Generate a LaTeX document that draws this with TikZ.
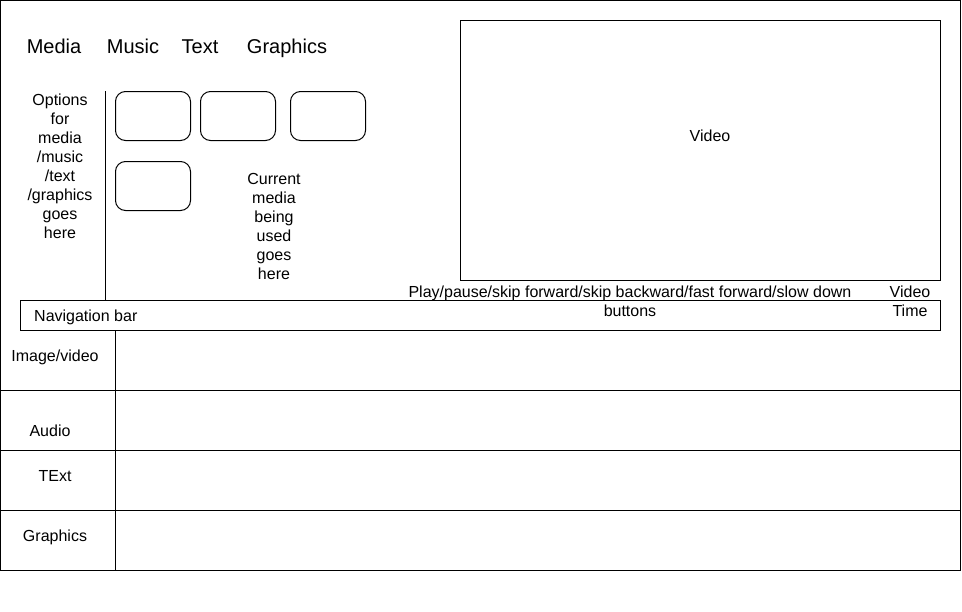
\documentclass[tikz,border=0pt]{standalone}
\usepackage{fontspec}
\setmainfont{Liberation Sans}
\begin{document}
\begin{tikzpicture}[x=1pt,y=-1pt,
  frame/.style={draw=black,line width=1pt},
  optbox/.style={draw=black,line width=1pt,rounded corners=10pt},
  lbl/.style={font=\fontsize{16}{19}\selectfont,align=center,inner sep=0pt},
  toplbl/.style={font=\fontsize{20}{24}\selectfont,inner sep=0pt,anchor=base}]
\useasboundingbox (0,0) rectangle (962,611);
% outer frame
\draw[frame] (0.5,0.5) rectangle (960.5,570.5);
% top labels
\node[toplbl] (media) at (54,53) {Media};
\node[toplbl] (music) at (133,53) {Music};
\node[toplbl] (text) at (200,53) {Text};
\node[toplbl] (graphics) at (287,53) {Graphics};
% video
\draw[frame] (460.5,20.5) rectangle (940.5,280.5);
\node[lbl] (video) at (710,136) {Video};
% options area
\draw[frame] (105.5,91) -- (105.5,300);
\node[lbl] (options) at (60,166) {Options\\for\\media\\/music\\/text\\/graphics\\goes\\here};
\draw[optbox] (115.5,91.5) rectangle (190.5,140.5);
\draw[optbox] (200.5,91.5) rectangle (275.5,140.5);
\draw[optbox] (290.5,91.5) rectangle (365.5,140.5);
\draw[optbox] (115.5,161.5) rectangle (190.5,210.5);
\node[lbl] (current) at (274,226) {Current\\media\\being\\used\\goes\\here};
% navigation bar
\draw[frame] (20.5,300.5) rectangle (940.5,330.5);
\node[lbl,anchor=base west] (nav) at (34,321) {Navigation bar};
\node[lbl] (buttons) at (630,301) {Play/pause/skip forward/skip backward/fast forward/slow down\\buttons};
\node[lbl] (vtime) at (910,301) {Video\\Time};
% table
\draw[frame] (115.5,330.5) -- (115.5,570.5);
\draw[frame] (0.5,390.5) -- (960.5,390.5);
\draw[frame] (0.5,450.5) -- (960.5,450.5);
\draw[frame] (0.5,510.5) -- (960.5,510.5);
\node[lbl,anchor=base] (imgvid) at (55,361) {Image/video};
\node[lbl,anchor=base] (audio) at (50,436) {Audio};
\node[lbl,anchor=base] (textrow) at (55,481) {TExt};
\node[lbl,anchor=base] (gfxrow) at (55,541) {Graphics};
\end{tikzpicture}
\end{document}
